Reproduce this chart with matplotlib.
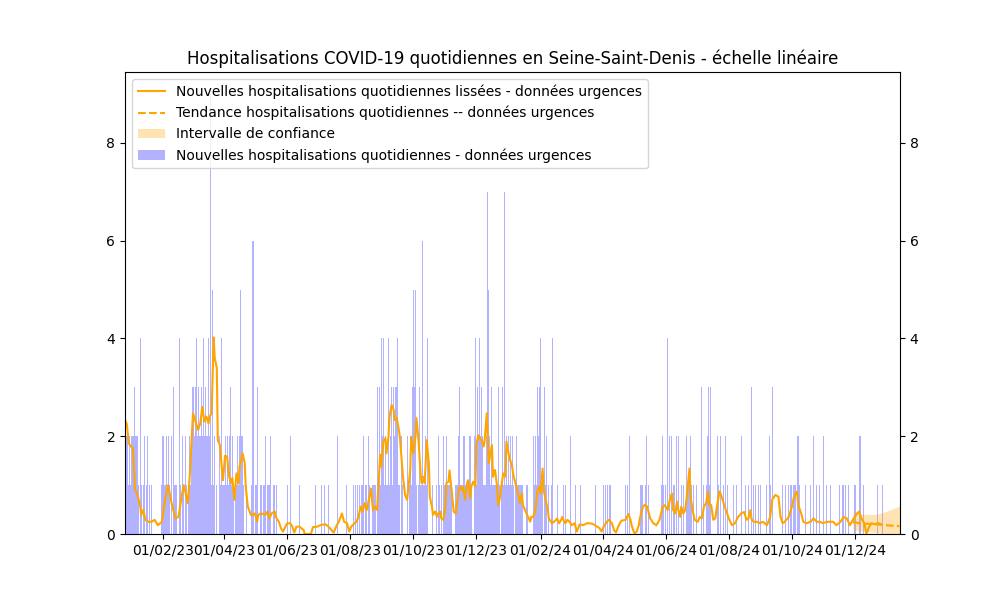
import datetime as dt
import numpy as np
import matplotlib
matplotlib.use("Agg")
import matplotlib.pyplot as plt
import matplotlib.dates as mdates
from matplotlib.patches import Patch
from matplotlib.lines import Line2D

# ----------------------------
# Data
# ----------------------------
start_date = dt.date(2022, 12, 27)

# daily hospitalisations (urgences), one value per day from start_date
daily_counts = [
    # 27/12/22 -> 26/02/23
    1, 2, 2, 1, 2, 1, 2, 2, 3, 2,
    2, 2, 1, 0, 4, 1, 0, 1, 2, 0,
    1, 2, 0, 1, 0, 1, 0, 0, 0, 0,
    0, 0, 0, 0, 0, 1, 2, 1, 1, 2,
    1, 2, 1, 0, 2, 0, 3, 1, 1, 1,
    0, 0, 4, 1, 0, 2, 1, 0, 2, 1,
    0, 1,
    # day 62 -> 124
    2, 1, 2, 3, 2, 3, 4, 2,
    3, 2, 2, 3, 2, 4, 2, 3, 2, 2,
    4, 2, 9, 1, 5, 1, 2, 0, 1, 0,
    0, 2, 1, 4, 1, 1, 2, 1, 2, 1,
    2, 3, 1, 2, 1, 0, 1, 1, 2, 1,
    2, 5, 2, 2, 1, 0, 0, 1, 0, 0,
    0, 0, 1, 6, 0,
    # day 125 -> 187
    1, 1, 3, 0, 0,
    1, 1, 0, 1, 1, 2, 0, 1, 1, 1,
    2, 0, 0, 1, 1, 0, 1, 0, 0, 0,
    0, 0, 0, 0, 0, 0, 1, 0, 0, 2,
    0, 0, 0, 0, 0, 0, 0, 0, 1, 0,
    0, 0, 0, 0, 0, 0, 0, 0, 0, 0,
    0, 0, 0, 1, 0, 0, 0, 0,
    # day 188 -> 250
    0, 1,
    0, 0, 1, 0, 0, 0, 1, 0, 0, 0,
    0, 0, 0, 0, 0, 2, 0, 0, 0, 0,
    0, 0, 0, 1, 0, 0, 0, 0, 0, 0,
    1, 0, 1, 0, 1, 0, 1, 0, 1, 1,
    2, 0, 1, 1, 0, 2, 1, 0, 0, 1,
    1, 1, 0, 3, 1, 3, 1, 4, 2, 4,
    1,
    # day 251 -> 313
    2, 1, 1, 4, 1, 2, 3, 1, 3,
    2, 3, 3, 4, 1, 1, 0, 2, 1, 0,
    0, 0, 2, 0, 1, 2, 1, 3, 5, 3,
    5, 1, 0, 1, 3, 1, 1, 6, 1, 1,
    2, 1, 4, 0, 0, 0, 0, 1, 0, 0,
    1, 0, 2, 1, 0, 1, 0, 2, 1, 1,
    2, 1, 1, 1,
    # day 314 -> 376
    1, 1, 0, 0, 0, 1,
    1, 1, 2, 3, 1, 1, 1, 2, 1, 1,
    1, 1, 2, 2, 1, 0, 0, 2, 4, 1,
    3, 2, 4, 2, 3, 2, 1, 1, 1, 2,
    7, 5, 2, 1, 3, 1, 1, 1, 1, 1,
    3, 1, 0, 1, 3, 1, 7, 1, 2, 1,
    2, 1, 2, 1, 2, 1, 0,
    # day 377 -> 439
    1, 2, 1,
    1, 1, 1, 1, 1, 0, 0, 1, 1, 0,
    0, 0, 0, 0, 2, 1, 2, 1, 3, 2,
    3, 4, 1, 1, 0, 3, 1, 2, 0, 1,
    0, 0, 1, 4, 0, 0, 0, 1, 0, 0,
    0, 0, 0, 1, 0, 1, 0, 0, 0, 0,
    2, 0, 0, 0, 0, 1, 0, 0, 0, 0,
    # day 440 -> 502
    1, 0, 0, 0, 0, 0, 0, 0, 0, 0,
    0, 0, 0, 0, 1, 0, 0, 0, 0, 0,
    0, 0, 1, 0, 1, 0, 1, 0, 1, 1,
    0, 0, 0, 0, 0, 0, 0, 0, 0, 0,
    0, 0, 0, 1, 0, 1, 0, 2, 0, 0,
    0, 0, 0, 0, 0, 0, 0, 0, 1, 1,
    1, 0, 1,
    # day 503 -> 734
    2, 0, 1, 0, 0, 0, 0,
    0, 0, 0, 0, 0, 0, 0, 0, 1, 2,
    1, 0, 1, 0, 4, 0, 2, 0, 2, 0,
    1, 0, 2, 0, 2, 0, 0, 1, 0, 1,
    0, 0, 2, 1, 1, 1, 2, 1, 0, 1,
    0, 0, 1, 0, 0, 0, 0, 3, 0, 1,
    0, 1, 2, 3, 1, 3, 0, 0, 0, 0,
    0, 0, 2, 1, 0, 2, 0, 0, 1, 0,
    2, 0, 1, 0, 0, 0, 0, 0, 1, 0,
    1, 0, 0, 0, 0, 2, 0, 0, 0, 1,
    0, 0, 1, 0, 0, 3, 0, 1, 0, 1,
    0, 0, 1, 0, 1, 0, 0, 0, 0, 1,
    0, 0, 2, 1, 0, 3, 0, 0, 0, 0,
    0, 0, 0, 0, 0, 1, 0, 0, 1, 0,
    0, 1, 0, 1, 1, 0, 1, 1, 0, 2,
    2, 1, 0, 0, 0, 0, 0, 1, 0, 0,
    0, 0, 1, 0, 0, 2, 0, 0, 1, 0,
    0, 1, 0, 0, 0, 2, 0, 1, 0, 0,
    0, 1, 0, 0, 0, 0, 0, 0, 0, 0,
    1, 0, 0, 1, 1, 0, 1, 0, 0, 1,
    0, 0, 0, 0, 0, 1, 0, 0, 0, 2,
    2, 0, 0, 1, 0, 0, 0, 0, 0, 0,
    0, 0, 0, 0, 0, 0, 0, 1, 0, 0,
    0, 0, 1, 0, 0,
]

# smoothed curve: (day offset from start_date, value)
smoothed_points = [
    (0, 2.3), (1, 2.25), (3, 1.85), (5, 1.79), (7, 1.75), (9, 0.9), (11, 0.83),
    (14, 0.56), (15, 0.39), (17, 0.49), (19, 0.29), (22, 0.25), (25, 0.25),
    (28, 0.29), (31, 0.18), (35, 0.25), (38, 0.7), (41, 1.0), (44, 0.66),
    (48, 0.32), (51, 0.35), (54, 0.76), (56, 1.0), (58, 0.83), (60, 0.63),
    (62, 1.24), (65, 2.47), (68, 2.26), (70, 2.13), (72, 2.26), (74, 2.6),
    (76, 2.3), (78, 2.4), (80, 2.26), (81, 2.4), (83, 2.47), (85, 4.02),
    (86, 3.6), (88, 3.4), (89, 1.92), (91, 1.82), (93, 1.31), (94, 1.1),
    (96, 1.6), (98, 1.58), (100, 1.17), (102, 1.04), (103, 1.14), (105, 0.7),
    (107, 1.24), (109, 1.04), (110, 1.38), (113, 1.65), (115, 1.45),
    (116, 0.97), (118, 0.56), (121, 0.39), (123, 0.39), (125, 0.42),
    (127, 0.25), (128, 0.39), (131, 0.42), (135, 0.39), (137, 0.46),
    (139, 0.32), (141, 0.42), (144, 0.46), (145, 0.35), (148, 0.25),
    (150, 0.12), (152, 0.05), (156, 0.22), (159, 0.22), (161, 0.15),
    (163, 0.03), (165, 0.15), (168, 0.15), (172, 0.08), (173, 0.0),
    (177, 0.0), (179, 0.0), (181, 0.14), (185, 0.15), (188, 0.18),
    (193, 0.2), (196, 0.15), (199, 0.08), (201, 0.03), (204, 0.18),
    (206, 0.25), (209, 0.42), (211, 0.25), (214, 0.22), (216, 0.05),
    (218, 0.15), (221, 0.22), (223, 0.25), (225, 0.35), (227, 0.56),
    (229, 0.46), (231, 0.63), (233, 0.49), (235, 0.7), (237, 0.93),
    (239, 0.49), (241, 0.56), (243, 0.49), (244, 0.9), (246, 1.62),
    (247, 1.38), (249, 1.89), (251, 1.96), (252, 1.65), (254, 1.99),
    (255, 2.4), (257, 2.64), (259, 2.54), (260, 2.33), (262, 2.37),
    (264, 2.13), (265, 1.99), (267, 1.45), (268, 1.17), (270, 0.8),
    (272, 0.7), (273, 0.9), (275, 1.31), (276, 1.99), (278, 1.65),
    (280, 1.99), (281, 2.37), (283, 1.92), (285, 1.24), (286, 1.04),
    (288, 1.17), (289, 1.04), (291, 1.92), (293, 1.45), (294, 0.76),
    (296, 0.56), (297, 0.39), (299, 0.46), (301, 0.35), (302, 0.42),
    (304, 0.46), (305, 0.32), (307, 0.29), (309, 0.56), (310, 1.04),
    (312, 1.07), (313, 1.3), (315, 0.9), (317, 0.46), (319, 0.42),
    (322, 0.9), (323, 0.97), (325, 0.9), (326, 0.97), (328, 0.7),
    (330, 1.04), (331, 1.1), (333, 0.73), (334, 0.97), (336, 1.07),
    (338, 0.97), (339, 1.85), (341, 2.02), (342, 1.96), (344, 1.92),
    (346, 1.79), (347, 1.92), (349, 2.47), (351, 1.45), (352, 1.58),
    (354, 1.82), (355, 1.17), (357, 1.31), (359, 0.97), (360, 0.59),
    (362, 0.76), (363, 0.97), (365, 1.24), (367, 1.17), (368, 1.89),
    (370, 1.65), (372, 1.48), (373, 1.45), (375, 1.17), (376, 1.1),
    (380, 0.76), (381, 0.63), (383, 0.83), (384, 0.59), (386, 0.49),
    (388, 0.39), (389, 0.35), (391, 0.25), (392, 0.35), (394, 0.35),
    (396, 0.49), (398, 0.9), (400, 0.97), (401, 0.83), (403, 1.34),
    (404, 0.9), (406, 0.7), (408, 0.49), (409, 0.32), (411, 0.25),
    (412, 0.22), (414, 0.25), (416, 0.29), (417, 0.32), (419, 0.22),
    (421, 0.29), (422, 0.35), (424, 0.25), (425, 0.22), (427, 0.29),
    (429, 0.25), (431, 0.18), (434, 0.22), (436, 0.05), (438, 0.15),
    (439, 0.2), (442, 0.18), (446, 0.22), (449, 0.22), (452, 0.2),
    (455, 0.16), (458, 0.12), (460, 0.05), (462, 0.15), (465, 0.25),
    (467, 0.29), (470, 0.22), (472, 0.08), (474, 0.03), (476, 0.15),
    (479, 0.27), (483, 0.29), (484, 0.32), (486, 0.41), (488, 0.29),
    (489, 0.18), (491, 0.05), (492, 0.01), (494, 0.05), (496, 0.18),
    (497, 0.32), (500, 0.56), (502, 0.6), (504, 0.56), (507, 0.32),
    (510, 0.22), (513, 0.18), (516, 0.29), (519, 0.56), (521, 0.59),
    (524, 0.49), (526, 0.7), (528, 0.83), (529, 0.5), (531, 0.42),
    (533, 0.66), (534, 0.5), (536, 0.35), (537, 0.56), (539, 0.42),
    (541, 0.5), (542, 0.7), (545, 1.34), (546, 0.76), (548, 0.49),
    (550, 0.29), (553, 0.25), (555, 0.35), (557, 0.32), (559, 0.56),
    (561, 0.63), (563, 0.87), (564, 0.6), (566, 0.59), (568, 0.29),
    (570, 0.32), (571, 0.49), (574, 0.87), (575, 0.83), (578, 0.63),
    (580, 0.5), (583, 0.32), (586, 0.18), (589, 0.22), (592, 0.35),
    (595, 0.42), (598, 0.45), (600, 0.29), (602, 0.32), (604, 0.49),
    (605, 0.3), (607, 0.25), (610, 0.25), (613, 0.22), (616, 0.25),
    (620, 0.18), (623, 0.35), (625, 0.7), (628, 0.8), (631, 0.76),
    (633, 0.35), (635, 0.22), (637, 0.25), (641, 0.35), (644, 0.56),
    (646, 0.76), (649, 0.87), (650, 0.6), (653, 0.42), (655, 0.25),
    (658, 0.22), (662, 0.25), (665, 0.32), (668, 0.25), (671, 0.25),
    (674, 0.22), (678, 0.25), (681, 0.25), (684, 0.25), (687, 0.18),
    (691, 0.25), (694, 0.35), (697, 0.32), (700, 0.18), (703, 0.29),
    (707, 0.42), (709, 0.46), (711, 0.32), (714, 0.22), (716, 0.0),
    (718, 0.12), (721, 0.22), (724, 0.2), (728, 0.22), (730, 0.2),
]

# trend forecast and its confidence interval (day offset from start_date)
trend_days = [703, 715, 725, 735, 748]
trend_values = [0.24, 0.21, 0.20, 0.18, 0.16]
ci_lower = [0.08, 0.05, 0.03, 0.01, 0.0]
ci_upper = [0.45, 0.40, 0.40, 0.46, 0.57]

title = "Hospitalisations COVID-19 quotidiennes en Seine-Saint-Denis - échelle linéaire"
label_smooth = "Nouvelles hospitalisations quotidiennes lissées - données urgences"
label_trend = "Tendance hospitalisations quotidiennes -- données urgences"
label_ci = "Intervalle de confiance"
label_bars = "Nouvelles hospitalisations quotidiennes - données urgences"

# ----------------------------
# Plot
# ----------------------------
start_num = mdates.date2num(dt.datetime.combine(start_date, dt.time()))
bar_x = start_num + np.arange(len(daily_counts))
smooth_x = start_num + np.array([d for d, _ in smoothed_points])
smooth_y = [v for _, v in smoothed_points]
trend_x = start_num + np.array(trend_days)

fig, ax = plt.subplots(figsize=(10, 6), dpi=100)

ax.bar(bar_x, daily_counts, width=1.0, color="blue", alpha=0.3, linewidth=0)
ax.plot(smooth_x, smooth_y, color="orange", linewidth=1.5)
ax.plot(trend_x, trend_values, color="orange", linestyle="--", linewidth=1.5)
ax.fill_between(trend_x, ci_lower, ci_upper, color="orange", alpha=0.3, linewidth=0)

ax.set_xlim(start_num - 0.73, start_num + 748.5)
ax.set_ylim(0, 9.45)
ax.set_yticks([0, 2, 4, 6, 8])
ax.tick_params(axis="y", right=True, labelright=True)

ax.xaxis.set_major_locator(mdates.MonthLocator(bymonth=[2, 4, 6, 8, 10, 12]))
ax.xaxis.set_major_formatter(mdates.DateFormatter("%d/%m/%y"))

ax.set_title(title)

handles = [
    Line2D([], [], color="orange", linewidth=1.5),
    Line2D([], [], color="orange", linestyle="--", linewidth=1.5),
    Patch(facecolor="orange", alpha=0.3),
    Patch(facecolor="blue", alpha=0.3),
]
ax.legend(handles, [label_smooth, label_trend, label_ci, label_bars], loc="upper left")

fig.savefig("out.png", dpi=100)
